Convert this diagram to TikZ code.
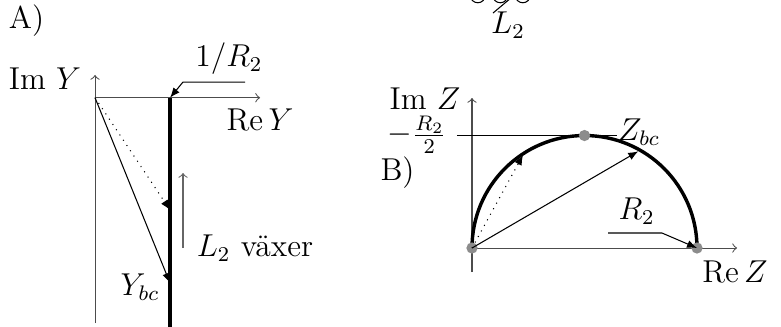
\documentclass[tikz,border=0pt]{standalone}
\usetikzlibrary{arrows.meta}
\begin{document}
\begin{tikzpicture}[
                    axis/.style={-to, black!70},
                    vec/.style={-{Latex[length=3.8pt,width=3pt]}},
                    dot/.style={circle, fill=black!45, inner sep=0pt, minimum size=1.5mm},
                    lbl/.style={inner sep=1pt, font=\large}
                    ]
                    \useasboundingbox (0,0) rectangle (10.413,4.347);
                    \clip (0,0) rectangle (10.413,4.347);

                    % A) admittance
                    \coordinate (oA) at (1.267,3.044);
                    \coordinate (imA) at (1.267,3.347);
                    \coordinate (imAb) at (1.267,0.04);
                    \coordinate (reA) at (3.467,3.044);
                    \coordinate (rA) at (2.267,3.044);
                    \coordinate (rAb) at (2.267,-0.2);
                    \coordinate (yL) at (2.267,1.547);
                    \coordinate (ybc) at (2.267,0.573);
                    \coordinate (kA0) at (3.267,3.253);
                    \coordinate (kA1) at (2.44,3.253);
                    \coordinate (lA0) at (2.44,1.04);
                    \coordinate (lA1) at (2.44,2.04);

                    \node[lbl] (A) at (0.353,4.067) {A)};
                    \node[lbl] (imY) at (0.6,3.293) {Im $Y$};
                    \node[lbl] (reY) at (3.467,2.753) {$\mathrm{Re}\,Y$};
                    \node[lbl] (invR) at (3.053,3.56) {$1/R_2$};
                    \node[lbl] (Ybc) at (1.867,0.52) {$Y_{bc}$};
                    \node[lbl] (vax) at (3.4,1.04) {$L_2$ växer};

                    \draw[axis] (imAb) -- (imA);
                    \draw[axis] (oA) -- (reA);
                    \draw[line width=1.3pt] (rA) -- (rAb);
                    \draw[vec] (kA0) -- (kA1) -- (rA);
                    \draw[vec, dotted] (oA) -- (yL);
                    \draw[vec] (oA) -- (ybc);
                    \draw[-to, black!60] (lA0) -- (lA1);

                    % B) impedance
                    \coordinate (oB) at (6.293,1.04);
                    \coordinate (imB) at (6.293,3.04);
                    \coordinate (imBb) at (6.293,0.72);
                    \coordinate (reB) at (9.827,1.04);
                    \coordinate (rB) at (9.293,1.04);
                    \coordinate (tB) at (7.793,2.54);
                    \coordinate (h0) at (6.093,2.54);
                    \coordinate (h1) at (8.22,2.54);
                    \coordinate (zL) at (6.973,2.28);
                    \coordinate (zbc) at (8.51,2.33);
                    \coordinate (kB0) at (8.107,1.24);
                    \coordinate (kB1) at (8.827,1.24);

                    \node[lbl] (B) at (5.3,2.047) {B)};
                    \node[lbl] (imZ) at (5.667,3.033) {Im $Z$};
                    \node[lbl] (reZ) at (9.8,0.727) {$\mathrm{Re}\,Z$};
                    \node[lbl] (half) at (5.56,2.547) {$-\frac{R_2}{2}$};
                    \node[lbl] (Zbc) at (8.52,2.587) {$Z_{bc}$};
                    \node[lbl] (R) at (8.487,1.527) {$R_2$};

                    \draw[axis] (imBb) -- (imB);
                    \draw[axis] (oB) -- (reB);
                    \draw (h0) -- (h1);
                    \draw[line width=1.3pt] (oB) arc[start angle=180, end angle=0, radius=1.5];
                    \foreach \p in {oB,tB,rB}{
                        \node[dot] at (\p) {};
                    }
                    \draw[vec, dotted] (oB) -- (zL);
                    \draw[vec] (oB) -- (zbc);
                    \draw[vec] (kB0) -- (kB1) -- (rB);

                    % L2 (cut off at the top)
                    \foreach \x in {6.37,6.67,6.97}{
                        \draw (\x,4.41) circle (0.1);
                    }
                    \coordinate (lv) at (6.573,4.173);
                    \draw[vec] (lv) -- ++(40:0.8);
                    \node[lbl] (L) at (6.773,4.013) {$L_2$};
                \end{tikzpicture}
\end{document}
